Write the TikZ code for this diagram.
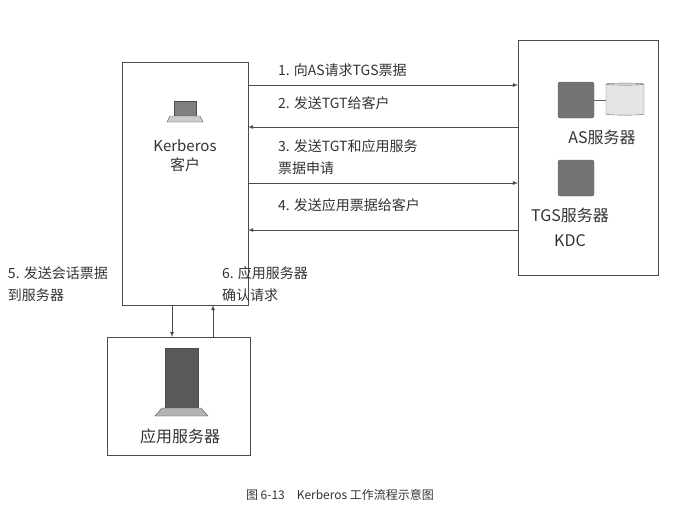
\documentclass[tikz,border=0pt]{standalone}
\usepackage{fontspec}
\setmainfont{Liberation Serif}
\newfontfamily\cjk{Noto Sans CJK SC}
\usetikzlibrary{positioning,shapes.geometric}
\tikzset{%
  >=latex,
  boxframe/.style={draw=black!70,line width=0.8pt},
  flow/.style={->,draw=black!70,line width=0.8pt},
  lbl/.style={inner sep=0pt,outer sep=0pt,anchor=west,align=left,text=black!80,font=\cjk\fontsize{14}{22}\selectfont},
  txt/.style={inner sep=0pt,text=black!80,font=\cjk\fontsize{15}{18}\selectfont},
  srv/.style={draw=black!60,fill=black!55,rounded corners=2pt,minimum width=36pt,minimum height=36pt}
}
\begin{document}
\begin{tikzpicture}[x=1pt,y=-1pt]
  \useasboundingbox (0,0) rectangle (674,528);
  % boxes
  \node[boxframe,minimum width=126pt,minimum height=243pt,anchor=north west] (client) at (122,62) {};
  \node[boxframe,minimum width=140pt,minimum height=235pt,anchor=north west] (kdc) at (518,40) {};
  \node[boxframe,minimum width=143pt,minimum height=118pt,anchor=north west] (app) at (107,337) {};
  % client content
  \draw[fill=black!50,draw=black!70] (174,101) rectangle (196,116);
  \draw[fill=black!20,draw=black!70] (170,116) -- (200,116) -- (203,122) -- (167,122) -- cycle;
  \node[txt] (kname) at (185,146) {Kerberos};
  \node[txt,below=5pt of kname] (kcn) {客户};
  % kdc content
  \node[srv] (as) at (576,100) {};
  \node[cylinder,shape border rotate=90,draw=black!60,fill=black!10,minimum width=38pt,minimum height=32pt,aspect=0.3] (disk) at (625,100) {};
  \draw[black!60] (as) -- (disk);
  \node[txt,font=\cjk\fontsize{16}{18}\selectfont] (asname) at (602,137) {AS服务器};
  \node[srv] (tgs) at (576,178) {};
  \node[txt,font=\cjk\fontsize{16}{18}\selectfont] (tgsname) at (570,215) {TGS服务器};
  \node[txt,font=\cjk\fontsize{16}{18}\selectfont] (kdcname) at (570,241) {KDC};
  % app server content
  \draw[fill=black!65,draw=black!70] (165,348) rectangle (198,408);
  \draw[fill=black!30,draw=black!70] (162,408) -- (201,408) -- (208,416) -- (155,416) -- cycle;
  \node[txt,font=\cjk\fontsize{16}{18}\selectfont] (appname) at (180,436) {应用服务器};
  % flows between client and kdc
  \coordinate (c1) at (248,85);  \coordinate (k1) at (518,85);
  \coordinate (c2) at (248,127); \coordinate (k2) at (518,127);
  \coordinate (c3) at (248,183); \coordinate (k3) at (518,183);
  \coordinate (c4) at (248,230); \coordinate (k4) at (518,230);
  \draw[flow] (c1) -- (k1);
  \draw[flow] (k2) -- (c2);
  \draw[flow] (c3) -- (k3);
  \draw[flow] (k4) -- (c4);
  \node[lbl] (l1) at (278,70) {1. 向AS请求TGS票据};
  \node[lbl] (l2) at (278,103) {2. 发送TGT给客户};
  \node[lbl] (l3) at (278,157) {3. 发送TGT和应用服务\\票据申请};
  \node[lbl] (l4) at (278,205) {4. 发送应用票据给客户};
  % flows between client and app server
  \coordinate (c5) at (172,305); \coordinate (a5) at (172,337);
  \coordinate (c6) at (213,305); \coordinate (a6) at (213,337);
  \draw[flow] (c5) -- (a5);
  \draw[flow] (a6) -- (c6);
  \node[lbl] (l5) at (8,284) {5. 发送会话票据\\到服务器};
  \node[lbl] (l6) at (222,284) {6. 应用服务器\\确认请求};
  % caption
  \node[txt,font=\cjk\fontsize{12}{14}\selectfont] (cap) at (340,495) {图 6-13\quad Kerberos 工作流程示意图};
\end{tikzpicture}
\end{document}
